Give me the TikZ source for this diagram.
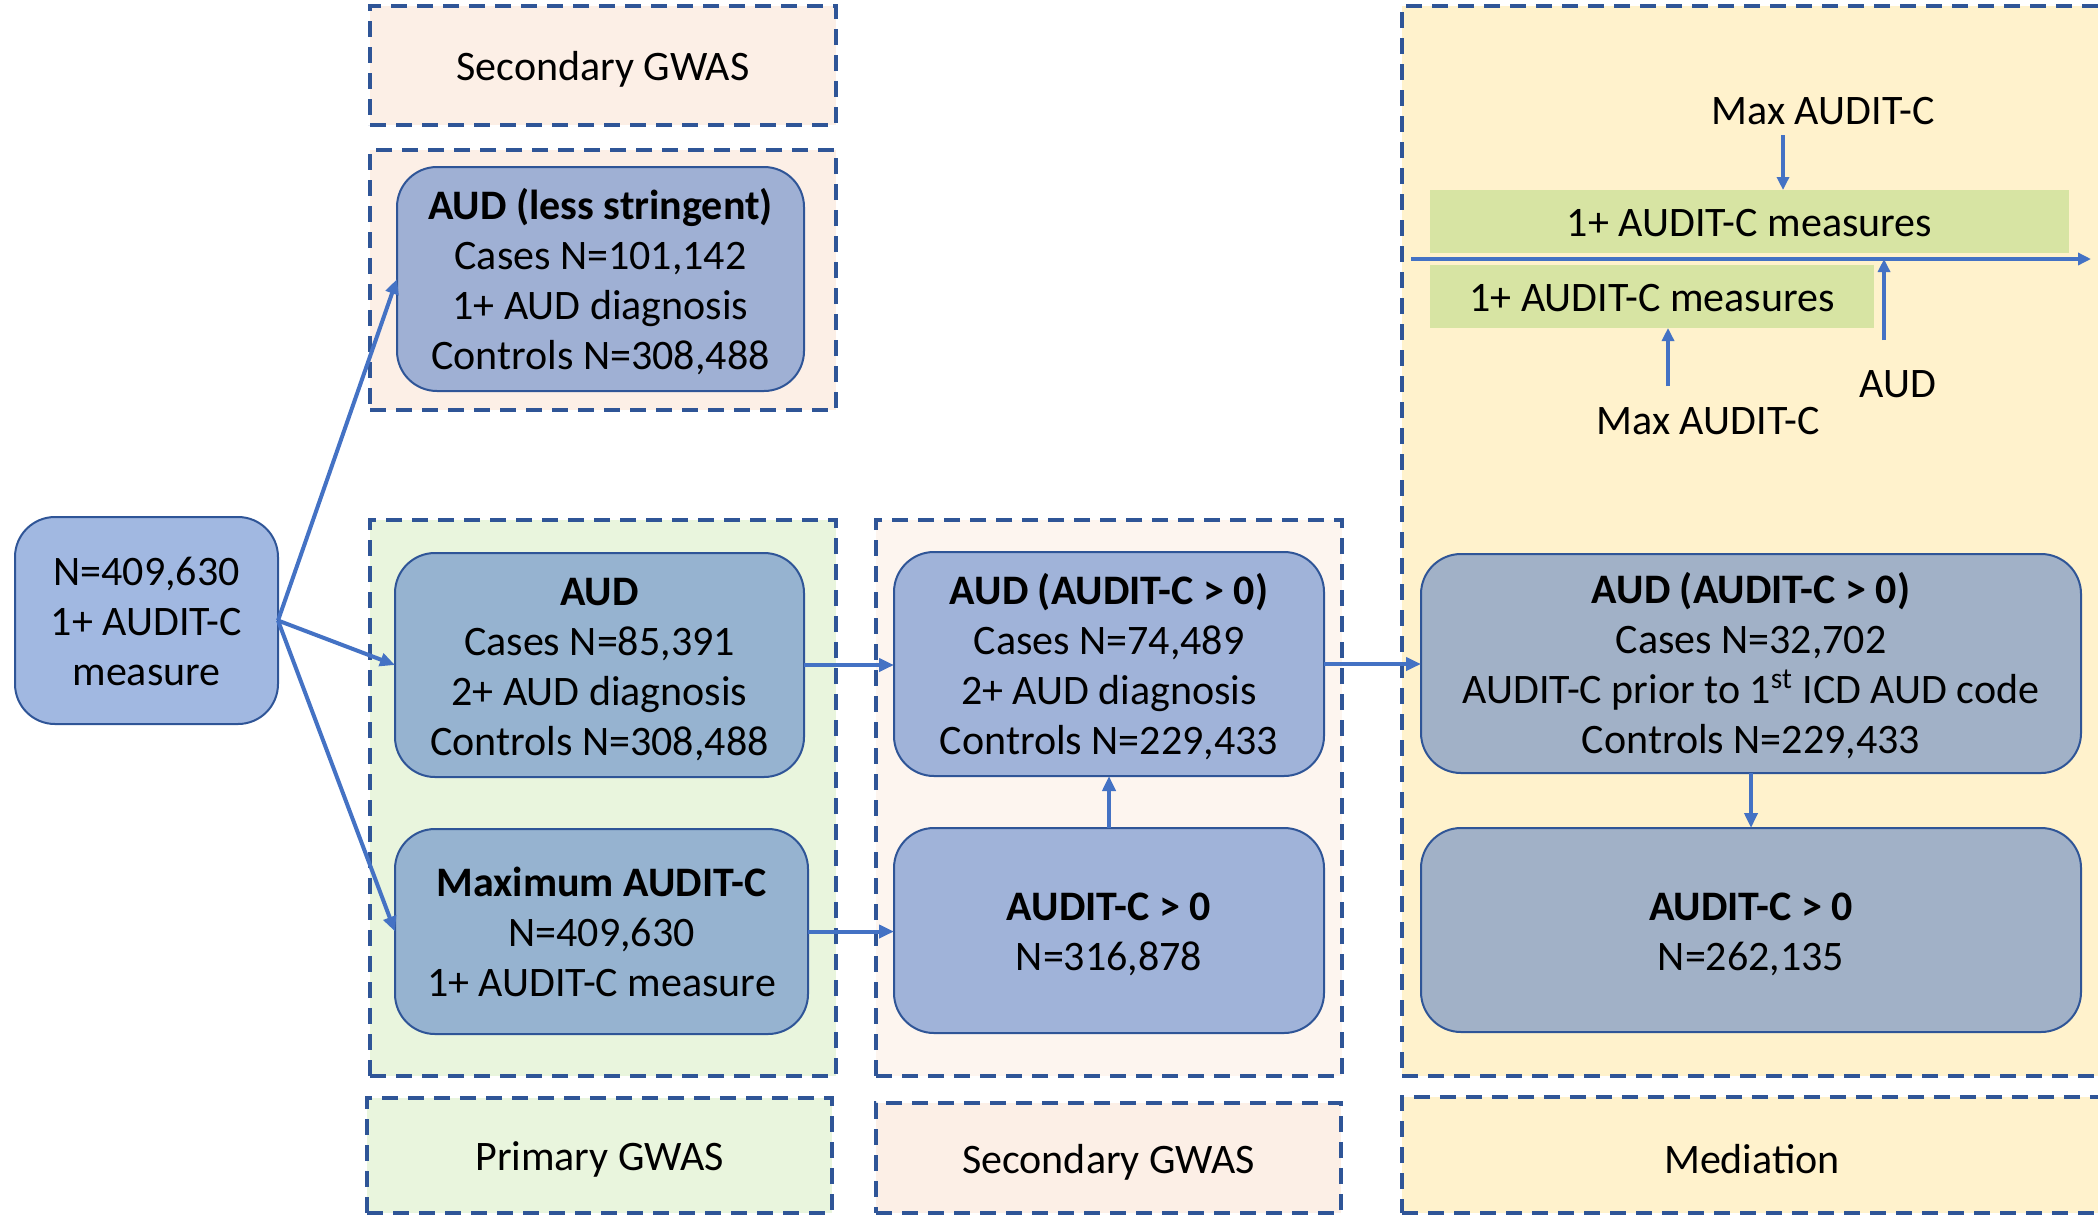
\documentclass[tikz,border=0pt]{standalone}
\usepackage{fontspec}
\setmainfont{Carlito}
\usetikzlibrary{arrows.meta}
\definecolor{bd}{HTML}{2F5597}
\definecolor{ar}{HTML}{4472C4}
\definecolor{peach}{HTML}{FCEFE6}
\definecolor{peachl}{HTML}{FDF5EF}
\definecolor{pgreen}{HTML}{E9F5DD}
\definecolor{pyellow}{HTML}{FFF2CC}
\definecolor{barc}{HTML}{D7E4A3}
\newcommand{\sth}{\rule{0pt}{19pt}}
\newcommand{\std}{\rule[-4pt]{0pt}{4pt}}
\begin{document}
\begin{tikzpicture}[x=0.5pt,y=-0.5pt,
  every node/.style={font=\fontsize{21pt}{25pt}\selectfont, inner sep=0pt, outer sep=0pt},
  region/.style={draw=bd, line width=1.6pt, dash pattern=on 8pt off 5pt},
  box/.style={draw=bd, line width=1pt, rounded corners=20pt, fill=ar, fill opacity=0.5, draw opacity=1, text opacity=1, align=center},
  arr/.style={draw=ar, line width=2pt, -{Triangle[length=7.5pt,width=6.5pt]}},
  arrs/.style={draw=ar, line width=1.7pt, -{Triangle[length=6.5pt,width=6pt]}},
  barbox/.style={fill=barc}
]
\useasboundingbox (0,0) rectangle (2098,1216);
% regions
\node[region, fill=peach, minimum width=233pt, minimum height=59.5pt] (topsec) at (603,65.5) {\sth Secondary GWAS\std};
\node[region, fill=peach, minimum width=233pt, minimum height=130pt] (lessouter) at (603,280) {};
\node[region, fill=pgreen, minimum width=233pt, minimum height=278pt] (primary) at (603,798) {};
\node[region, fill=peachl, minimum width=233pt, minimum height=278pt] (secmid) at (1109,798) {};
\node[region, fill=pyellow, minimum width=355pt, minimum height=535pt] (med) at (1757,541) {};
\node[region, fill=pgreen, minimum width=232.5pt, minimum height=57.5pt] (primlabel) at (599.5,1155.5) {\sth Primary GWAS\std};
\node[region, fill=peach, minimum width=232.5pt, minimum height=55pt] (seclabel) at (1108.5,1158) {\sth Secondary GWAS\std};
\node[region, fill=pyellow, minimum width=355pt, minimum height=58pt] (medlabel) at (1757,1155) {};
\node (medtext) at (1752,1158) {\sth Mediation\std};
% boxes
\node[box, minimum width=131.5pt, minimum height=103.5pt] (left) at (146.5,620.5) {\sth N=409,630\\1+ AUDIT-C\\measure\std};
\node[box, minimum width=203.5pt, minimum height=112pt] (less) at (600.5,279) {\sth\textbf{AUD (less stringent)}\\Cases N=101,142\\1+ AUD diagnosis\\Controls N=308,488\std};
\node[box, minimum width=204.5pt, minimum height=112pt] (aud) at (599.5,665) {\sth\textbf{AUD}\\Cases N=85,391\\2+ AUD diagnosis\\Controls N=308,488\std};
\node[box, minimum width=206.5pt, minimum height=102.5pt] (max) at (601.5,931.5) {\sth\textbf{Maximum AUDIT-C}\\N=409,630\\1+ AUDIT-C measure\std};
\node[box, minimum width=215pt, minimum height=112pt] (midaud) at (1109,664) {\sth\textbf{AUD (AUDIT-C > 0)}\\Cases N=74,489\\2+ AUD diagnosis\\Controls N=229,433\std};
\node[box, minimum width=215pt, minimum height=102.5pt] (midc) at (1109,930.5) {\sth\textbf{AUDIT-C > 0}\\N=316,878\std};
\node[box, minimum width=330pt, minimum height=109.5pt] (medaud) at (1751,663.5) {\sth\textbf{AUD (AUDIT-C > 0)}\\Cases N=32,702\\AUDIT-C prior to 1\textsuperscript{st} ICD AUD code\\Controls N=229,433\std};
\node[box, minimum width=330pt, minimum height=102pt] (medc) at (1751,930) {\sth\textbf{AUDIT-C > 0}\\N=262,135\std};
% connectors
\draw[arr] (left.east) -- (less.west);
\draw[arr] (left.east) -- (aud.west);
\draw[arr] (left.east) -- (max.west);
\draw[arr] (aud.east) -- (aud.east -| midaud.west);
\draw[arr] (max.east) -- (max.east -| midc.west);
\draw[arr] (midc.north) -- (midaud.south);
\draw[arr] (midaud.east) -- (midaud.east -| medaud.west);
\draw[arr] (medaud.south) -- (medc.north);
% mediation timeline
\node[barbox, minimum width=319.5pt, minimum height=31.5pt] (bartop) at (1749.5,221.5) {\sth 1+ AUDIT-C measures\std};
\node[barbox, minimum width=222pt, minimum height=31.5pt] (barbot) at (1652,296.5) {\sth 1+ AUDIT-C measures\std};
\coordinate (hs) at (1411,259);
\coordinate (he) at (2091,259);
\draw[arrs] (hs) -- (he);
\node (maxtop) at (1823,111) {Max AUDIT-C};
\node (audlab) at (1898,384) {AUD};
\node (maxbot) at (1708,421) {Max AUDIT-C};
\coordinate (mt1) at (1783,135);
\coordinate (a1) at (1884,340);
\coordinate (m1) at (1668,386);
\draw[arrs] (mt1) -- (mt1 |- bartop.north);
\draw[arrs] (a1) -- (a1 |- hs);
\draw[arrs] (m1) -- (m1 |- barbot.south);
\end{tikzpicture}
\end{document}
